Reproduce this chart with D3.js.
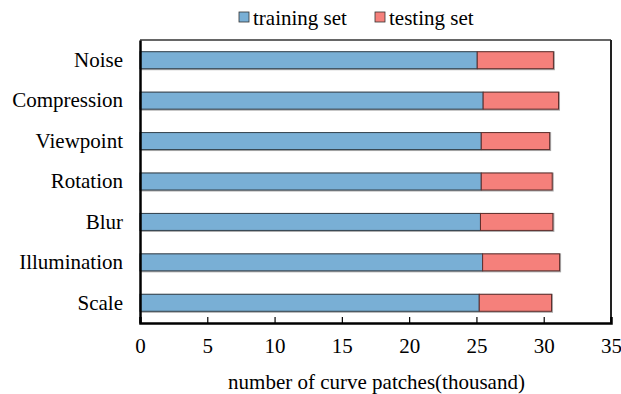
<!DOCTYPE html>
<html>
<head>
<meta charset="utf-8">
<script src="https://cdnjs.cloudflare.com/ajax/libs/d3/7.8.5/d3.min.js"></script>
<style>
  html, body { margin: 0; padding: 0; background: #fff; }
  svg { display: block; }
</style>
</head>
<body>
<svg id="chart" width="621" height="394"></svg>
<script>
// Categories, top to bottom
const categories = ["Noise", "Compression", "Viewpoint", "Rotation", "Blur", "Illumination", "Scale"];
// Thousands of curve patches per category
const trainingSet = [25.06, 25.5, 25.36, 25.36, 25.3, 25.46, 25.21];
const testingSet  = [5.66, 5.6, 5.08, 5.27, 5.38, 5.72, 5.37];
const seriesNames = ["training set", "testing set"];
const xTicks = [0, 5, 10, 15, 20, 25, 30, 35];

const colors = ["#79afd5", "#f5807b"];
const FONT = '"Liberation Serif", "Times New Roman", serif';
const FS = "21px";
const W = 621, H = 394;
const margin = { top: 40, right: 10, bottom: 71, left: 140 };
const svg = d3.select("#chart");

const x = d3.scaleLinear().domain([0, 35]).range([margin.left, W - margin.right]);
const y = d3.scaleBand().domain(categories).range([margin.top, H - margin.bottom]).paddingInner(0.58).paddingOuter(0.29);

const rows = categories.map((c, i) => ({ cat: c, vals: [trainingSet[i], testingSet[i]] }));
const stack = d3.stack().keys([0, 1]).value((d, k) => d.vals[k]);
const layers = stack(rows);

// Soft grey halo around each stacked bar
svg.append("g").selectAll("rect").data(rows).join("rect")
  .attr("x", d => x(0))
  .attr("y", d => y(d.cat) - 0.5)
  .attr("width", d => x(d.vals[0] + d.vals[1]) - x(0) + 1.5)
  .attr("height", y.bandwidth() + 2)
  .attr("fill", "#a8a8a8");

layers.forEach((layer, k) => {
  svg.append("g").selectAll("rect").data(layer).join("rect")
    .attr("x", d => x(d[0]))
    .attr("y", d => y(d.data.cat))
    .attr("width", d => x(d[1]) - x(d[0]))
    .attr("height", y.bandwidth())
    .attr("fill", colors[k])
    .attr("stroke", k === 0 ? "#34434e" : "#5e2e2c")
    .attr("stroke-width", 1);
});

// Frame: top and right borders
svg.append("line").attr("x1", x(0)).attr("x2", x(35)).attr("y1", margin.top).attr("y2", margin.top)
  .attr("stroke", "#333").attr("stroke-width", 1.5);
svg.append("line").attr("x1", x(35)).attr("x2", x(35)).attr("y1", margin.top).attr("y2", H - margin.bottom)
  .attr("stroke", "#222").attr("stroke-width", 2);

// Bottom axis with inward ticks
const xAxis = svg.append("g").attr("transform", `translate(0,${H - margin.bottom})`)
  .call(d3.axisBottom(x).tickValues(xTicks).tickSize(-6).tickPadding(15).tickFormat(d3.format("d")));
xAxis.select(".domain").attr("stroke", "#000").attr("stroke-width", 2.5);
xAxis.selectAll(".tick line").attr("stroke", "#000").attr("stroke-width", 1.2)
  .filter(d => d === 0 || d === 35).remove();
xAxis.selectAll("text").style("font-family", FONT).style("font-size", FS).attr("fill", "#000");

// Left axis
const yAxis = svg.append("g").attr("transform", `translate(${margin.left},0)`)
  .call(d3.axisLeft(y).tickSize(0).tickPadding(17));
yAxis.select(".domain").attr("stroke", "#000").attr("stroke-width", 2.5);
yAxis.selectAll("text").style("font-family", FONT).style("font-size", FS).attr("fill", "#000");

// Axis title
svg.append("text").attr("x", (x(0) + x(35)) / 2 + 1).attr("y", 389)
  .attr("text-anchor", "middle").style("font-family", FONT).style("font-size", FS).attr("fill", "#000")
  .text("number of curve patches(thousand)");

// Legend
const legendX = [239, 375];
seriesNames.forEach((name, k) => {
  const g = svg.append("g").attr("transform", `translate(${legendX[k]},0)`);
  g.append("rect").attr("x", 0).attr("y", 12).attr("width", 10).attr("height", 10)
    .attr("fill", colors[k]).attr("stroke", "#333").attr("stroke-width", 0.8);
  g.append("text").attr("x", 14).attr("y", 25).style("font-family", FONT).style("font-size", FS)
    .attr("fill", "#000").text(name);
});
</script>
</body>
</html>
